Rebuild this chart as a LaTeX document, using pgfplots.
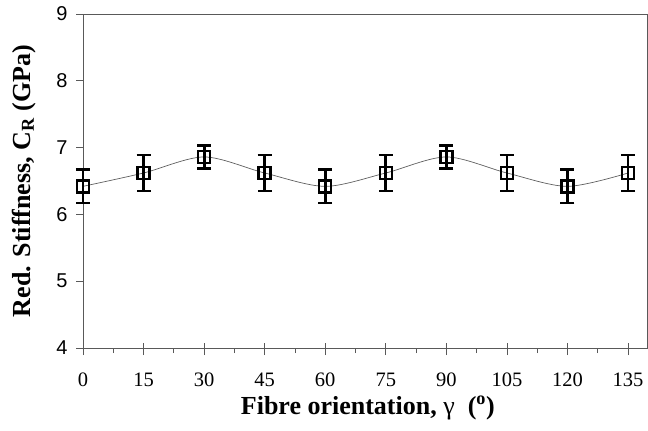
\documentclass[border=0pt]{standalone}
\usepackage{fontspec}
\setmainfont{Liberation Serif}
\newfontfamily\arial{Liberation Sans}
\usepackage{pgfplots}
\pgfplotsset{compat=1.18}

\begin{document}
\begin{tikzpicture}
	\begin{axis}[
		name=ax,
		scale only axis,
		width=564pt, height=334pt,
		xmin=0, xmax=139.7,
		ymin=4, ymax=9,
		axis lines*=box,
		axis line style={gray!70!black, line width=0.8pt},
		xtick={0,15,...,135},
		minor xtick={7.5,22.5,...,127.5},
		ytick={4,5,...,9},
		xtick pos=bottom, ytick pos=left,
		tick align=outside,
		major tick length=7pt, minor tick length=5pt,
		extra x ticks={0,15,...,135},
		extra x tick labels={},
		extra x tick style={tick align=inside, major tick length=5pt},
		tick style={gray!70!black, line width=0.8pt},
		/pgf/number format/assume math mode=true,
		xticklabel style={font=\fontsize{20.5}{21}\selectfont, anchor=base, yshift=-31pt},
		yticklabel style={font=\arial\fontsize{20}{20}\selectfont, xshift=-5pt},
		xlabel={\textbf{Fibre orientation, {\mdseries γ}\enspace(\textsuperscript{o})}},
		ylabel={\textbf{Red. Stiffness, C\textsubscript{R} (GPa)}},
		label style={font=\fontsize{26}{29}\selectfont},
		xlabel style={at={(axis description cs:0.505,0)}, anchor=base, yshift=-66pt},
		ylabel style={at={(axis description cs:-0.105,0.5)}, anchor=center},
		clip=false,
	]
		%% smoothed trend line
		\addplot[gray!75!black, line width=0.7pt, smooth, tension=0.5] coordinates {
			(0,6.42) (15,6.62) (30,6.86) (45,6.62) (60,6.42)
			(75,6.62) (90,6.86) (105,6.62) (120,6.42) (135,6.62)
		};

		%% measured points with error bars
		\addplot[
			only marks, mark=square, mark size=6pt,
			mark options={black, line width=2.5pt},
			error bars/.cd, y dir=both, y explicit,
			error mark options={rotate=90, mark size=7pt, line width=2.8pt, black},
			error bar style={line width=2.8pt, black},
		] coordinates {
			(0,6.42) +- (0,0.25)
			(15,6.62) +- (0,0.27)
			(30,6.86) +- (0,0.17)
			(45,6.62) +- (0,0.27)
			(60,6.42) +- (0,0.25)
			(75,6.62) +- (0,0.27)
			(90,6.86) +- (0,0.17)
			(105,6.62) +- (0,0.27)
			(120,6.42) +- (0,0.25)
			(135,6.62) +- (0,0.27)
		};
	\end{axis}
	\pgfresetboundingbox
	\path[use as bounding box] ([shift={(-83pt,-83pt)}]ax.south west) rectangle ([shift={(1pt,14pt)}]ax.north east);
\end{tikzpicture}
\end{document}
